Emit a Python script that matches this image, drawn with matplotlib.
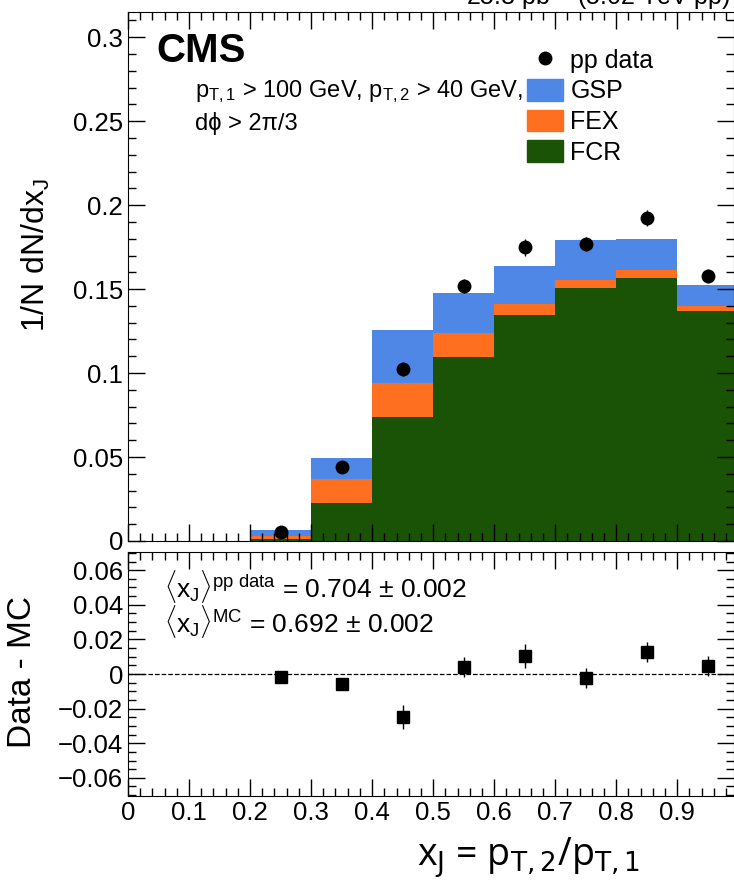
import numpy as np
import matplotlib
matplotlib.use("Agg")
import matplotlib.pyplot as plt
from matplotlib.patches import Patch
from matplotlib.lines import Line2D
from matplotlib.ticker import MultipleLocator

plt.rcParams['font.family'] = ['Liberation Sans', 'DejaVu Sans']
plt.rcParams['mathtext.fontset'] = 'custom'
plt.rcParams['mathtext.rm'] = 'Liberation Sans'
plt.rcParams['mathtext.it'] = 'Liberation Sans'

# --- data ---
bin_edges = [0.0, 0.1, 0.2, 0.3, 0.4, 0.5, 0.6, 0.7, 0.8, 0.9, 1.0]
fcr = [0, 0, 0.0012, 0.0226, 0.0738, 0.1095, 0.1345, 0.1506, 0.1565, 0.1370]
fex = [0, 0, 0.0018, 0.0143, 0.0202, 0.0143, 0.0065, 0.0048, 0.0048, 0.0030]
gsp = [0, 0, 0.0035, 0.0125, 0.0316, 0.0238, 0.0227, 0.0236, 0.0185, 0.0124]

data_x = [0.25, 0.35, 0.45, 0.55, 0.65, 0.75, 0.85, 0.95]
data_y = [0.0054, 0.0440, 0.1024, 0.1518, 0.1750, 0.1768, 0.1923, 0.1577]
data_err = [0.001, 0.002, 0.004, 0.004, 0.005, 0.004, 0.005, 0.004]

diff_y = [-0.0017, -0.0058, -0.0248, 0.0040, 0.0104, -0.0023, 0.0127, 0.0046]
diff_err = [0.002, 0.003, 0.007, 0.006, 0.007, 0.006, 0.006, 0.006]

c_gsp = "#4f87e6"
c_fex = "#ff6f1f"
c_fcr = "#1a5206"

fig = plt.figure(figsize=(7.34, 8.84), dpi=100)
ax = fig.add_axes([128/734, 1 - 541/884, 606/734, 529/884])
rax = fig.add_axes([128/734, 1 - 796/884, 606/734, 244/884])

# --- stacked MC ---
left = np.array(bin_edges[:-1])
w = np.diff(bin_edges)
fcr = np.array(fcr)
fex = np.array(fex)
gsp = np.array(gsp)
ax.bar(left, fcr, width=w, align='edge', color=c_fcr, lw=0)
ax.bar(left, fex, width=w, bottom=fcr, align='edge', color=c_fex, lw=0)
ax.bar(left, gsp, width=w, bottom=fcr + fex, align='edge', color=c_gsp, lw=0)

ax.errorbar(data_x, data_y, yerr=data_err, fmt='o', color='black',
            ms=9, elinewidth=1, capsize=0, zorder=5)

ax.set_xlim(0, 0.993)
ax.set_ylim(0, 0.315)
ax.set_xticklabels([])
ax.set_ylabel(r"1/N dN/dx$_{\rm J}$", fontsize=23)
ax.yaxis.set_label_coords(-0.125, 0.54)

for a in (ax, rax):
    a.xaxis.set_major_locator(MultipleLocator(0.1))
    a.xaxis.set_minor_locator(MultipleLocator(0.02))
    a.tick_params(which='both', direction='in', top=True, right=True,
                  labelsize=18.5)
    a.tick_params(which='major', length=12, width=1)
    a.tick_params(which='minor', length=6, width=1)
ax.yaxis.set_major_locator(MultipleLocator(0.05))
ax.yaxis.set_minor_locator(MultipleLocator(0.01))
ax.set_yticks([0, 0.05, 0.1, 0.15, 0.2, 0.25, 0.3])
ax.set_yticklabels(["0", "0.05", "0.1", "0.15", "0.2", "0.25", "0.3"])

ax.text(0.046, 0.9055, "CMS", transform=ax.transAxes, fontsize=29,
        fontweight='bold', va='baseline', ha='left')
ax.text(0.111, 0.850, r"p$_{\rm T,1}$ > 100 GeV, p$_{\rm T,2}$ > 40 GeV,",
        transform=ax.transAxes, fontsize=17, ha='left', va='center')
ax.text(0.111, 0.790, "dϕ > 2π/3", transform=ax.transAxes, fontsize=17,
        ha='left', va='center')

handles = [Line2D([], [], marker='o', ls='none', color='black', ms=9),
           Patch(color=c_gsp), Patch(color=c_fex), Patch(color=c_fcr)]
ax.legend(handles, ["pp data", "GSP", "FEX", "FCR"], loc='upper left',
          bbox_to_anchor=(0.6415, 0.950), frameon=False, fontsize=18,
          handlelength=1.45, handleheight=0.95, handletextpad=0.3,
          labelspacing=0.25, borderaxespad=0)

fig.text(0.995, 1 - 5/884, r"25.8 pb$^{-1}$ (5.02 TeV pp)", ha='right',
         va='baseline', fontsize=18)

# --- ratio panel ---
rax.errorbar(data_x, diff_y, yerr=diff_err, fmt='s', color='black',
             ms=9, elinewidth=1, capsize=0, zorder=5)
rax.axhline(0, color='black', ls='--', lw=0.9)
rax.set_xlim(0, 0.993)
rax.set_ylim(-0.0705, 0.0705)
rax.yaxis.set_major_locator(MultipleLocator(0.02))
rax.yaxis.set_minor_locator(MultipleLocator(0.005))
rax.set_yticks([-0.06, -0.04, -0.02, 0, 0.02, 0.04, 0.06])
rax.set_yticklabels(["\u22120.06", "\u22120.04", "\u22120.02", "0",
                     "0.02", "0.04", "0.06"])
rax.set_xticks([0, 0.1, 0.2, 0.3, 0.4, 0.5, 0.6, 0.7, 0.8, 0.9])
rax.set_xticklabels(["0", "0.1", "0.2", "0.3", "0.4", "0.5", "0.6", "0.7",
                     "0.8", "0.9"])
rax.set_ylabel("Data - MC", fontsize=24)
rax.yaxis.set_label_coords(-0.148, 0.51)

rax.text(0.06, 0.86, r"$\langle$x$_{\rm J}\rangle^{\rm pp\ data}$ = 0.704 $\pm$ 0.002",
         transform=rax.transAxes, fontsize=19, ha='left', va='center')
rax.text(0.06, 0.715, r"$\langle$x$_{\rm J}\rangle^{\rm MC}$ = 0.692 $\pm$ 0.002",
         transform=rax.transAxes, fontsize=19, ha='left', va='center')

fig.text(0.872, 1 - 858/884, r"x$_{\rm J}$ = p$_{\rm T,2}$/p$_{\rm T,1}$",
         ha='right', va='center', fontsize=27, family='Open Sans',
         math_fontfamily='dejavusans')

fig.savefig("out.png", dpi=100)
